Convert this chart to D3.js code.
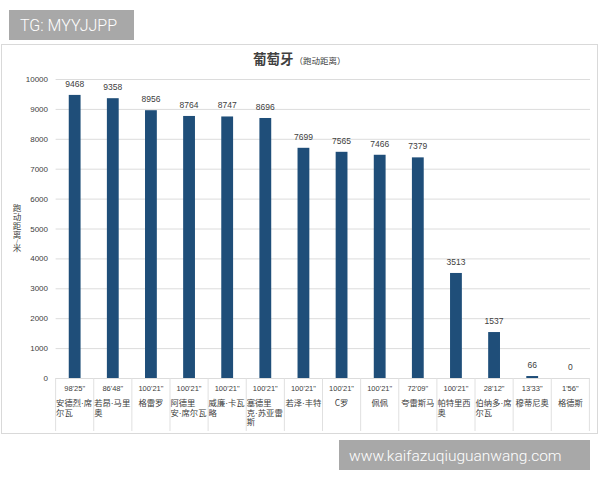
<!DOCTYPE html>
<html lang="zh">
<head>
  <meta charset="UTF-8">
  <title>葡萄牙 跑动距离</title>
  <script src="https://cdn.jsdelivr.net/npm/d3@7"></script>
  <style>
    body { margin: 0; background: #fff; }
    svg { display: block; }
    text { font-family: "Liberation Sans", "Noto Sans CJK SC", sans-serif; }
    .cjk { font-family: "Noto Sans CJK SC", sans-serif; }
  </style>
</head>
<body>
  <svg id="chart"></svg>
  <script>
    // players (line breaks as in the table cells)
    const players = ['安德烈·席\n尔瓦', '若昂·马里\n奥', '格雷罗', '阿德里\n安·席尔瓦', '威廉·卡瓦\n略',
      '塞德里\n克·苏亚雷\n斯', '若泽·丰特', 'C罗', '佩佩', '夸雷斯马', '帕特里西\n奥', '伯纳多·席\n尔瓦',
      '穆蒂尼奥', '格德斯'];
    const playTimes = ['98\'25"', '86\'48"', '100\'21"', '100\'21"', '100\'21"', '100\'21"', '100\'21"',
      '100\'21"', '100\'21"', '72\'09"', '100\'21"', '28\'12"', '13\'33"', '1\'56"'];
    const distances = [9468, 9358, 8956, 8764, 8747, 8696, 7699, 7565, 7466, 7379, 3513, 1537, 66, 0];
    const yTicks = [0, 1000, 2000, 3000, 4000, 5000, 6000, 7000, 8000, 9000, 10000];
    const yTitle = ['跑', '动', '距', '离', '/', '米'];

    const width = 600, height = 480;
    const svg = d3.select('#chart').attr('width', width).attr('height', height);

    // chart frame
    svg.append('rect')
      .attr('x', 1.5).attr('y', 44.5).attr('width', 596).attr('height', 389)
      .attr('fill', '#fff').attr('stroke', '#d9d9d9');

    let x = d3.scaleBand().domain(players).range([55.6, 589.4]).paddingInner(0.69).paddingOuter(0.345);
    let cell = d3.scaleBand().domain(players).range([55.6, 589.4]);
    let y = d3.scaleLinear().domain([0, 10000]).range([378, 79]);

    // title
    let title = svg.append('text').attr('class', 'cjk').attr('x', 253).attr('y', 64).attr('fill', '#404040');
    title.append('tspan').attr('font-size', 13.5).attr('font-weight', 'bold').text('葡萄牙');
    title.append('tspan').attr('font-size', 8.5).attr('dx', 1).text('（跑动距离）');

    // grid + y labels
    svg.append('g').selectAll('line').data(yTicks).enter().append('line')
      .attr('x1', 55.6).attr('x2', 590)
      .attr('y1', d => y(d) + 0.5).attr('y2', d => y(d) + 0.5)
      .attr('stroke', '#dcdcdc').attr('stroke-width', 1);
    svg.append('g').selectAll('text').data(yTicks).enter().append('text')
      .attr('x', 48).attr('y', d => y(d) + 3)
      .attr('text-anchor', 'end').attr('font-size', 8).attr('fill', '#404040')
      .text(d => d);

    // y axis title, stacked upright characters in one text
    let yPos = [211, 220, 229, 238, 244, 251];
    svg.append('text')
      .attr('class', 'cjk')
      .attr('text-anchor', 'middle').attr('fill', '#404040')
      .selectAll('tspan').data(yTitle).enter().append('tspan')
      .attr('x', 17)
      .attr('y', (d, i) => yPos[i])
      .attr('font-size', d => d === '/' ? 6 : 8.5)
      .text(d => d);

    // bars
    svg.append('g').selectAll('rect').data(distances).enter().append('rect')
      .attr('x', (d, i) => x(players[i]))
      .attr('y', d => y(d))
      .attr('width', x.bandwidth())
      .attr('height', d => y(0) - y(d))
      .attr('fill', '#1f4e79');

    // value labels
    svg.append('g').selectAll('text').data(distances).enter().append('text')
      .attr('x', (d, i) => x(players[i]) + x.bandwidth() / 2)
      .attr('y', d => y(d) - 8)
      .attr('text-anchor', 'middle').attr('font-size', 8.5).attr('fill', '#404040')
      .text(d => d);

    // category table
    let table = svg.append('g');
    table.selectAll('line').data(d3.range(players.length + 1)).enter().append('line')
      .attr('x1', i => 55.6 + i * cell.step()).attr('x2', i => 55.6 + i * cell.step())
      .attr('y1', 378).attr('y2', 431)
      .attr('stroke', '#e0e0e0');

    table.selectAll('.time').data(playTimes).enter().append('text')
      .attr('class', 'time')
      .attr('x', (d, i) => cell(players[i]) + cell.bandwidth() / 2)
      .attr('y', 390.5)
      .attr('text-anchor', 'middle').attr('font-size', 7.5).attr('fill', '#404040')
      .text(d => d);

    table.selectAll('.name').data(players).enter().append('text')
      .attr('class', 'name cjk')
      .attr('font-size', 8.3).attr('fill', '#404040')
      .attr('text-anchor', d => d.includes('\n') ? 'start' : 'middle')
      .each(function(d) {
        let t = d3.select(this);
        let lines = d.split('\n');
        let cx = lines.length > 1 ? cell(d) + 0.5 : cell(d) + cell.bandwidth() / 2;
        lines.forEach((line, k) => {
          // narrow middle dot between name parts
          line.split('·').forEach((part, j) => {
            if(j > 0) t.append('tspan').style('font-family', '"Liberation Sans", sans-serif').text('·');
            let s = t.append('tspan').text(part);
            if(j === 0) s.attr('x', cx).attr('y', 406 + k * 9.7);
          });
        });
      });

    // watermarks
    svg.append('rect').attr('x', 9).attr('y', 10).attr('width', 125).attr('height', 30).attr('fill', '#a8a8a8');
    svg.append('text').attr('x', 20).attr('y', 31).attr('font-size', 16).attr('fill', '#fff')
      .style('font-family', 'Roboto, sans-serif').style('font-weight', 300)
      .text('TG: MYYJJPP');
    svg.append('rect').attr('x', 339).attr('y', 440).attr('width', 251).attr('height', 30).attr('fill', '#a8a8a8');
    svg.append('text').attr('x', 349).attr('y', 461).attr('font-size', 15.5).attr('fill', '#fff')
      .style('font-family', 'Roboto, sans-serif').style('font-weight', 300)
      .text('www.kaifazuqiuguanwang.com');
  </script>
</body>
</html>
